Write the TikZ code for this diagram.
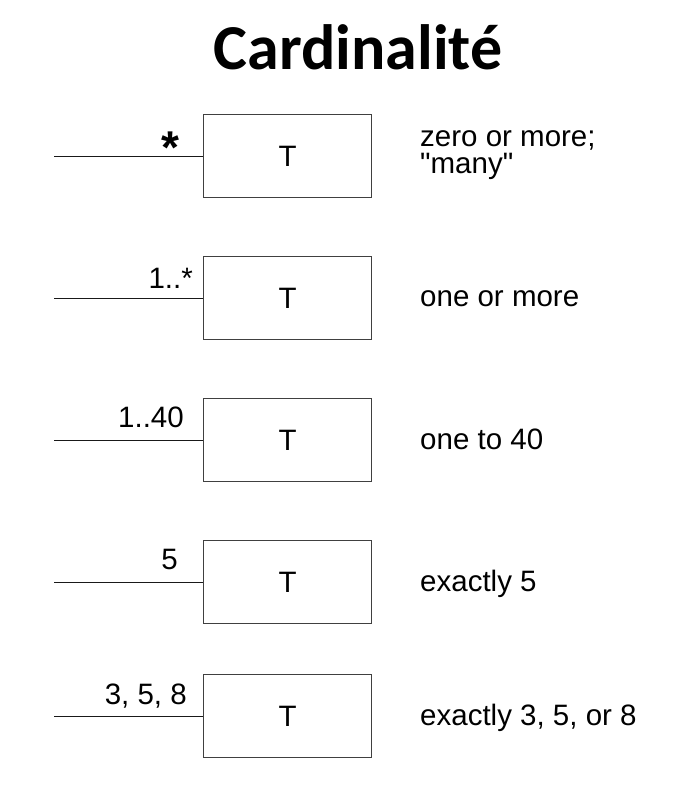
\documentclass[tikz,border=0pt]{standalone}
\usepackage{fontspec}
\setmainfont{Liberation Sans}[Ligatures=TeXOff]
\newfontfamily\titlefont{Carlito}
\begin{document}
\begin{tikzpicture}[x=1pt,y=-1pt,
  cls/.style={draw=black!75, line width=1.1pt, minimum width=168pt, minimum height=83pt, inner sep=0pt, anchor=north west, font=\fontsize{29.5}{33}\selectfont},
  conn/.style={draw=black!90, line width=1.1pt},
  mult/.style={anchor=base east, inner sep=0pt, font=\fontsize{29.5}{33}\selectfont},
  desc/.style={anchor=base west, inner sep=0pt, align=left, font=\fontsize{29.5}{27}\selectfont}]
\useasboundingbox (0,0) rectangle (696,807);
\node[anchor=base, inner sep=0pt, font=\titlefont\bfseries\fontsize{64}{70}\selectfont] (title) at (358,69) {Cardinalité};
% row 1
\node[cls] (b1) at (203,114) {T};
\coordinate (e1) at ([xshift=-149pt]b1.west);
\draw[conn] (e1) -- (b1.west);
\node[anchor=base, inner sep=0pt, font=\bfseries\fontsize{46}{50}\selectfont] (m1) at (170,163) {*};
\node[desc] (d1) at (420,173) {zero or more;\\"many"};
% row 2
\node[cls] (b2) at (203,256) {T};
\coordinate (e2) at ([xshift=-149pt]b2.west);
\draw[conn] (e2) -- (b2.west);
\node[mult] (m2) at (193,288) {1..*};
\node[desc] (d2) at (420,306) {one or more};
% row 3
\node[cls] (b3) at (203,398) {T};
\coordinate (e3) at ([xshift=-149pt]b3.west);
\draw[conn] (e3) -- (b3.west);
\node[mult] (m3) at (184,427) {1..40};
\node[desc] (d3) at (420,449) {one to 40};
% row 4
\node[cls] (b4) at (203,540) {T};
\coordinate (e4) at ([xshift=-149pt]b4.west);
\draw[conn] (e4) -- (b4.west);
\node[mult] (m4) at (178,569) {5};
\node[desc] (d4) at (420,591) {exactly 5};
% row 5
\node[cls] (b5) at (203,674) {T};
\coordinate (e5) at ([xshift=-149pt]b5.west);
\draw[conn] (e5) -- (b5.west);
\node[mult] (m5) at (187,704) {3, 5, 8};
\node[desc] (d5) at (420,725) {exactly 3, 5, or 8};
\end{tikzpicture}
\end{document}
